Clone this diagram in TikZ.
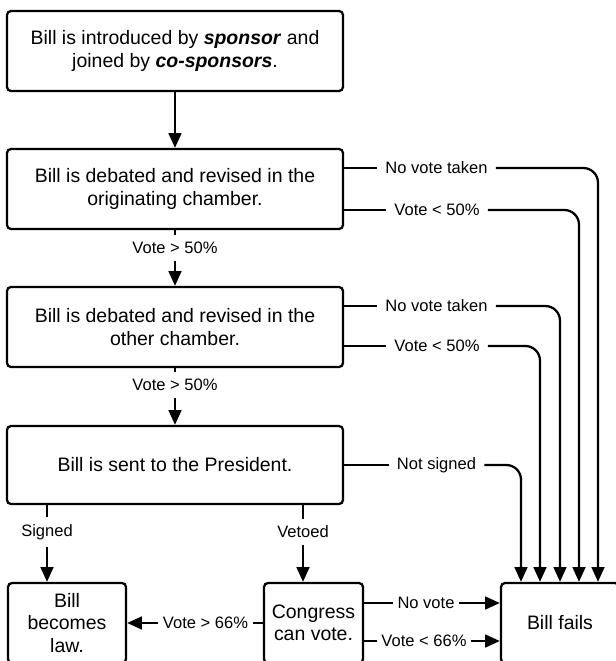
\documentclass[tikz,border=0pt]{standalone}
\usepackage{fontspec}
\setmainfont{Liberation Sans}
\usetikzlibrary{arrows.meta}

\begin{document}
\begin{tikzpicture}[x=0.75pt,y=-0.75pt,
  box/.style={draw,line width=\tline,rounded corners=3pt,align=center,
    inner sep=0pt,font=\fontsize{14.6}{16.8}\selectfont},
  lbl/.style={inner xsep=6pt,inner ysep=5pt,font=\fontsize{12.4}{14}\selectfont},
  tight/.style={lbl,inner xsep=3.5pt},
  flow/.style={line width=\tline},
  arr/.style={line width=\tline,-{Triangle[length=11pt,width=9.5pt]}}]

\def\tline{1.7pt};
\def\bigw{252pt};
\def\smallw{74.25pt};
\def\sidew{88.5pt};
\def\boxh{60pt};
\def\turn{11pt};

\useasboundingbox (0,0) rectangle (615,661);

\node [box,minimum width=\bigw,minimum height=\boxh] (intro) at (175,51)
  {Bill is introduced by \textbf{\textit{sponsor}} and\\joined by \textbf{\textit{co-sponsors}}.};
\node [box,minimum width=\bigw,minimum height=\boxh] (orig) at (175,189)
  {Bill is debated and revised in the\\originating chamber.};
\node [box,minimum width=\bigw,minimum height=\boxh] (other) at (175,327)
  {Bill is debated and revised in the\\other chamber.};
\node [box,minimum width=\bigw,minimum height=58.5pt] (pres) at (175,465)
  {Bill is sent to the President.};

\node [box,minimum width=\sidew,minimum height=\boxh] (law) at (67,623)
  {Bill\\becomes\\law.};
\node [box,minimum width=\smallw,minimum height=\boxh] (cong) at (313.5,623)
  {Congress\\can vote.};
\node [box,minimum width=\sidew,minimum height=\boxh] (fails) at (560,623)
  {Bill fails};

\foreach \i/\x in {1/598,2/579,3/560,4/540,5/521}
{
\coordinate (D\i) at (\x,0);
}

\node [lbl] (up1) at (175,248) {Vote > 50\%};
\node [lbl] (up2) at (175,385) {Vote > 50\%};
\node [lbl] (nv1) at (436.5,168) {No vote taken};
\node [lbl] (lt1) at (437,210) {Vote < 50\%};
\node [lbl] (nv2) at (436.5,306) {No vote taken};
\node [lbl] (lt2) at (437,346) {Vote < 50\%};
\node [lbl] (ns) at (436.5,465) {Not signed};
\node [lbl] (sg) at (47,532) {Signed};
\node [lbl] (vt) at (303,532) {Vetoed};
\node [tight] (gt66) at (205.5,623) {Vote > 66\%};
\node [tight] (nvc) at (426,603) {No vote};
\node [tight] (lt66) at (424,641) {Vote < 66\%};

\draw [arr] (intro) -- (orig);

\draw [flow] (orig) -- (up1);
\draw [arr] (up1) -- (other);
\draw [flow] (other) -- (up2);
\draw [arr] (up2) -- (pres);

\draw [flow] (nv1.west -| orig.east) -- (nv1.west);
\draw [arr,rounded corners=\turn] (nv1.east) -| (fails.north -| D1);
\draw [flow] (lt1.west -| orig.east) -- (lt1.west);
\draw [arr,rounded corners=\turn] (lt1.east) -| (fails.north -| D2);
\draw [flow] (nv2.west -| other.east) -- (nv2.west);
\draw [arr,rounded corners=\turn] (nv2.east) -| (fails.north -| D3);
\draw [flow] (lt2.west -| other.east) -- (lt2.west);
\draw [arr,rounded corners=\turn] (lt2.east) -| (fails.north -| D4);
\draw [flow] (ns.west -| pres.east) -- (ns.west);
\draw [arr,rounded corners=\turn] (ns.east) -| (fails.north -| D5);

\draw [flow] (sg.north |- pres.south) -- (sg.north);
\draw [arr] (sg.south) -- (sg.south |- law.north);
\draw [flow] (vt.north |- pres.south) -- (vt.north);
\draw [arr] (vt.south) -- (vt.south |- cong.north);

\draw [flow] (cong.west) -- (gt66.east);
\draw [arr] (gt66.west) -- (law.east);
\draw [flow] (nvc.west -| cong.east) -- (nvc.west);
\draw [arr] (nvc.east) -- (nvc.east -| fails.west);
\draw [flow] (lt66.west -| cong.east) -- (lt66.west);
\draw [arr] (lt66.east) -- (lt66.east -| fails.west);

\end{tikzpicture}
\end{document}
